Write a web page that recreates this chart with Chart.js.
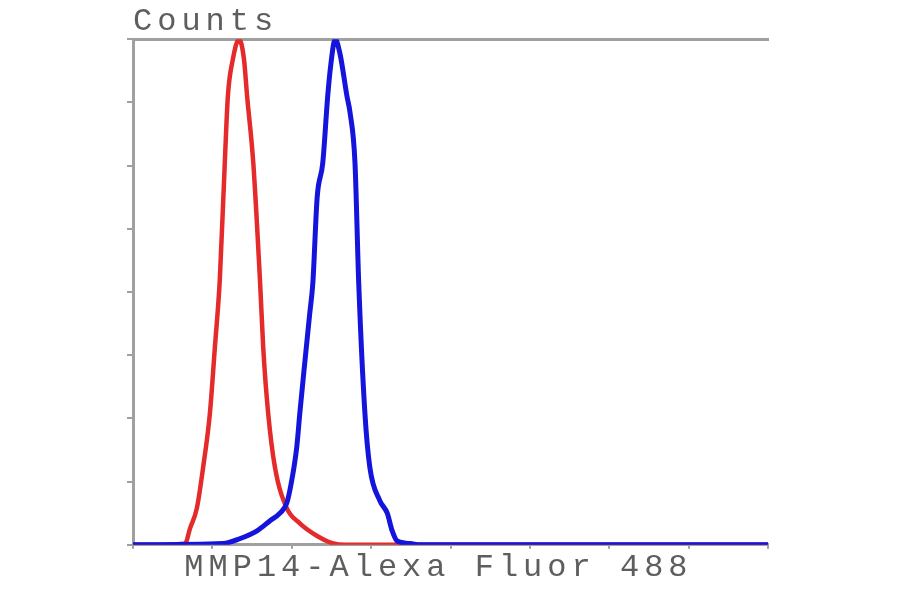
<!DOCTYPE html>
<html>
<head>
<meta charset="utf-8">
<script src="https://cdn.jsdelivr.net/npm/chart.js@4/dist/chart.umd.min.js"></script>
<style>
  html, body { margin: 0; padding: 0; background: #fff; }
</style>
</head>
<body>
<canvas id="histo" width="900" height="594"></canvas>
<script>
// Histogram data (channel, counts)
const redChannel  = [0, 44, 84, 92, 103, 113, 124, 132, 140, 148, 153, 161, 171, 179, 184, 194, 205, 210, 218, 229, 248, 269, 297, 323, 342, 1024];
const redCounts   = [0, 0, 1, 13, 29, 61, 104, 156, 210, 302, 355, 384, 400, 384, 355, 302, 207, 156, 104, 61, 29, 17, 7, 1, 0, 0];
const blueChannel = [0, 145, 173, 200, 221, 237, 248, 256, 264, 269, 277, 285, 290, 297, 306, 314, 319, 326, 334, 345, 350, 358, 364, 374, 382, 398, 410, 418, 426, 447, 463, 1024];
const blueCounts  = [0, 1, 5, 11, 19, 25, 33, 51, 77, 104, 144, 183, 207, 275, 302, 355, 380, 400, 388, 355, 342, 302, 207, 104, 61, 35, 25, 11, 3, 1, 0, 0];

const xLabel = 'MMP14-Alexa Fluor 488 ';
const yLabel = 'Counts';

const toPoints = (xs, ys) => xs.map((x, i) => ({ x: x, y: ys[i] }));

// Wide monospaced look of the original labels
const letterSpacing = {
    id: 'letterSpacing',
    beforeLayout(chart) { chart.ctx.letterSpacing = '5px'; },
    beforeDraw(chart) { chart.ctx.letterSpacing = '5px'; }
};

const axisGray = '#a0a0a0';
const labelFont = { family: 'Liberation Mono', size: 32, weight: 'normal', lineHeight: 1.1 };

new Chart(document.getElementById('histo').getContext('2d'), {
    type: 'line',
    data: {
        datasets: [
            {
                label: 'control',
                data: toPoints(redChannel, redCounts),
                borderColor: '#e42a2a',
                borderWidth: 4.5,
                pointRadius: 0,
                cubicInterpolationMode: 'monotone',
                order: 2
            },
            {
                label: 'MMP14',
                data: toPoints(blueChannel, blueCounts),
                borderColor: '#1414dc',
                borderWidth: 5,
                pointRadius: 0,
                cubicInterpolationMode: 'monotone',
                order: 1
            }
        ]
    },
    options: {
        responsive: false,
        animation: false,
        devicePixelRatio: 1,
        layout: { padding: { left: 133, right: 132, top: 0, bottom: 9 } },
        plugins: {
            legend: { display: false },
            tooltip: { enabled: false },
            title: {
                display: true,
                text: yLabel,
                align: 'start',
                color: '#5e5e5e',
                font: labelFont,
                padding: { top: 4, bottom: 0 }
            }
        },
        scales: {
            x: {
                type: 'linear',
                min: 0,
                max: 1024,
                ticks: { display: false, stepSize: 128 },
                grid: { drawOnChartArea: false, drawTicks: true, tickLength: 4, color: axisGray, lineWidth: 2 },
                border: { color: axisGray, width: 3 },
                title: {
                    display: true,
                    text: xLabel,
                    color: '#5e5e5e',
                    font: labelFont,
                    padding: { top: 1, bottom: 0 }
                }
            },
            x2: {
                type: 'linear',
                position: 'top',
                min: 0,
                max: 1024,
                ticks: { display: false },
                grid: { display: false, drawTicks: false },
                border: { color: axisGray, width: 3 }
            },
            y: {
                min: 0,
                max: 400,
                ticks: { display: false, stepSize: 50 },
                grid: { drawOnChartArea: false, drawTicks: true, tickLength: 6, color: axisGray, lineWidth: 2 },
                border: { color: axisGray, width: 3 },
                // tick marks hang into the left padding, so the title lines up with the axis
                afterFit(scale) { scale.width = 0; }
            }
        }
    },
    plugins: [letterSpacing]
});
</script>
</body>
</html>
